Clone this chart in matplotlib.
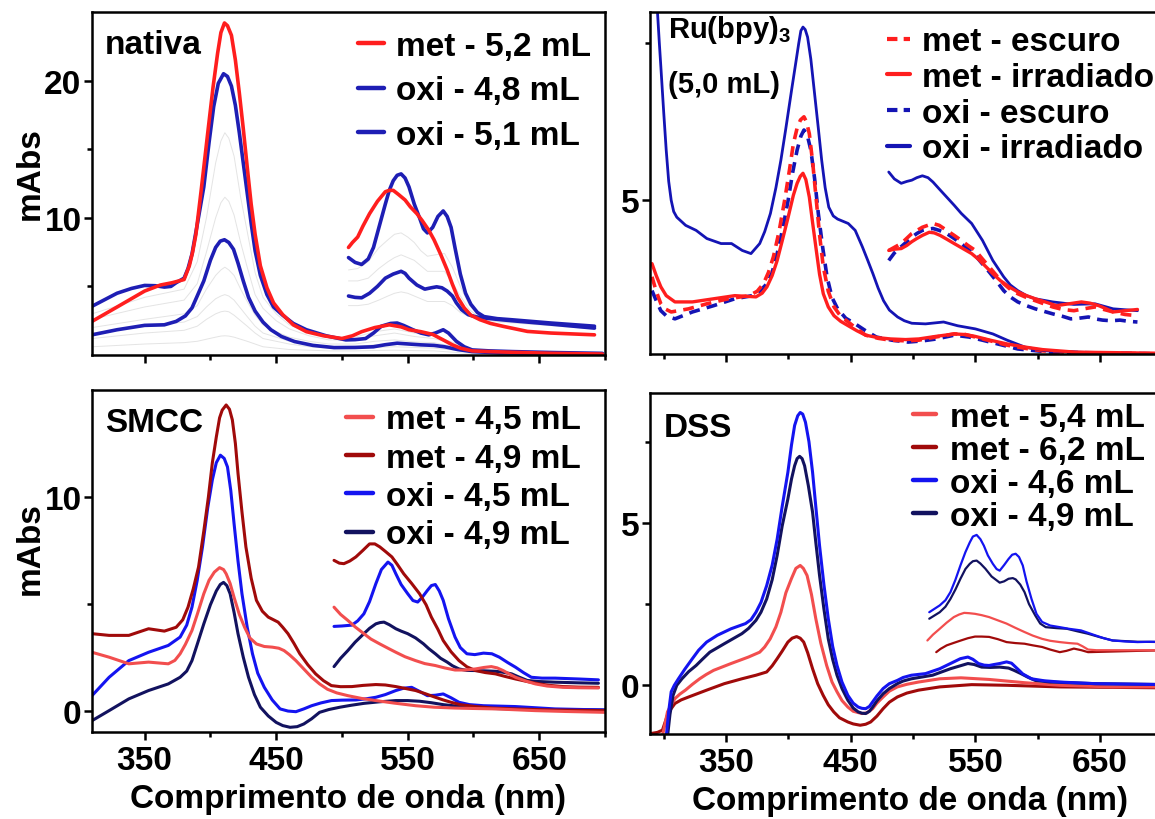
import matplotlib
matplotlib.use("Agg")
import matplotlib.pyplot as plt
from matplotlib.lines import Line2D
from matplotlib.ticker import FixedLocator

plt.rcParams['font.family'] = ['Liberation Sans', 'DejaVu Sans']
plt.rcParams['font.weight'] = 'bold'
plt.rcParams['mathtext.fontset'] = 'custom'
plt.rcParams['mathtext.rm'] = 'Liberation Sans:bold'
plt.rcParams['mathtext.default'] = 'rm'
plt.rcParams['lines.solid_joinstyle'] = 'round'
plt.rcParams['lines.solid_capstyle'] = 'round'
plt.rcParams['lines.dash_joinstyle'] = 'round'

# ---------------- nativa (top-left) ----------------
nat_met_wl = [310, 330, 350, 362, 371, 380, 384, 386.5, 389, 393, 398, 402, 405.5, 408, 410.7, 413, 416, 419, 422, 425, 428, 431, 434, 438, 443, 448, 455, 463, 473, 486, 500, 508, 515, 525, 536, 545, 551, 560, 569, 577, 584, 590, 599, 612, 629, 660, 698]
nat_met_v = [2.45, 3.55, 4.66, 5.1, 5.27, 5.5, 6.5, 7.5, 8.8, 12.0, 16.2, 19.5, 22.0, 23.5, 24.2, 24.0, 23.3, 21.5, 19.1, 16.5, 13.7, 11.0, 8.8, 6.5, 4.9, 3.8, 2.94, 2.2, 1.7, 1.4, 1.2, 1.4, 1.7, 2.0, 2.2, 2.05, 1.84, 1.7, 1.5, 1.1, 0.74, 0.5, 0.3, 0.25, 0.2, 0.12, 0.07]
nat_met_up_wl = [505, 508, 512, 516, 521, 527, 533, 536, 539, 543, 548, 552, 557, 561, 566, 570, 575, 580, 584, 588, 593, 598, 605, 613, 623, 641, 659, 692]
nat_met_up_v = [7.84, 8.2, 8.6, 9.4, 10.3, 11.2, 11.9, 12.0, 12.0, 11.7, 11.3, 10.8, 10.3, 9.8, 9.1, 8.4, 7.35, 6.2, 5.15, 4.2, 3.43, 2.9, 2.57, 2.3, 2.08, 1.72, 1.6, 1.47]

nat_oxi48_wl = [310, 320, 329, 340, 350, 358, 365, 370, 374, 380, 383, 386, 390, 395, 399, 402.5, 406, 410, 413, 416, 419, 422, 425, 428, 431, 434, 438, 443, 448, 455, 463, 473, 488, 503, 510, 518, 524, 530, 537, 542, 547, 554, 560, 566, 571, 577, 581, 587, 593, 599, 612, 629, 660, 698]
nat_oxi48_v = [3.55, 4.05, 4.5, 4.85, 5.07, 5.05, 4.95, 5.0, 5.27, 5.6, 6.3, 7.35, 9.5, 12.25, 15.5, 18.1, 19.8, 20.5, 20.3, 19.6, 18.2, 16.2, 14.0, 11.8, 9.6, 7.6, 5.8, 4.4, 3.5, 2.9, 2.3, 1.84, 1.4, 1.1, 1.12, 1.2, 1.6, 2.1, 2.3, 2.33, 2.15, 1.84, 1.6, 1.47, 1.6, 1.84, 1.6, 1.0, 0.6, 0.37, 0.3, 0.25, 0.18, 0.12]
nat_oxi48_up_wl = [505, 510, 515, 520, 524, 529, 533, 536, 539, 542, 545, 548, 551, 555, 559, 562, 565, 569, 573, 577, 580, 583, 586, 590, 594, 598, 603, 608, 618, 629, 659, 692]
nat_oxi48_up_v = [7.1, 6.75, 6.6, 7.0, 7.84, 9.6, 11.0, 12.0, 12.7, 13.1, 13.2, 12.9, 12.25, 11.0, 10.0, 9.2, 8.9, 9.3, 10.1, 10.5, 10.1, 9.3, 7.8, 5.9, 4.5, 3.7, 3.1, 2.8, 2.65, 2.57, 2.33, 2.1]

nat_oxi51_wl = [310, 329, 350, 365, 374, 381, 386, 390, 395, 400, 404, 407.5, 410.7, 414, 417.6, 421, 425, 429, 434, 440, 446, 454, 464, 478, 494, 510, 524, 533, 542, 551, 560, 570, 578, 588, 599, 620, 698]
nat_oxi51_v = [1.47, 1.84, 2.16, 2.2, 2.45, 2.85, 3.43, 4.3, 5.4, 6.9, 7.84, 8.3, 8.4, 8.2, 7.7, 6.7, 5.4, 4.2, 3.2, 2.4, 1.84, 1.35, 0.98, 0.7, 0.54, 0.55, 0.6, 0.75, 0.86, 0.8, 0.74, 0.7, 0.6, 0.4, 0.25, 0.15, 0.07]
nat_oxi51_up_wl = [505, 510, 515, 521, 527, 533, 539, 545, 548, 551, 557, 563, 568, 572, 576, 580, 584, 587, 591, 596, 602, 608, 618, 629, 659, 692]
nat_oxi51_up_v = [4.3, 4.2, 4.17, 4.5, 5.0, 5.6, 5.9, 6.1, 5.95, 5.6, 5.1, 4.8, 4.9, 4.97, 4.9, 4.66, 4.3, 3.8, 3.3, 2.94, 2.78, 2.7, 2.6, 2.5, 2.25, 1.96]

# faint intermediate spectra (grey)
nat_grey_wl = [310, 350, 380, 390, 397, 404, 408, 411, 414, 418, 423, 428, 434, 440, 450, 460, 475, 490, 510, 525, 540, 555, 570, 585, 600, 650, 698]
nat_grey_v = [
    [3.0, 4.2, 4.8, 6.8, 10.0, 14.0, 15.6, 16.2, 15.8, 14.5, 11.5, 9.0, 6.0, 4.2, 3.0, 2.2, 1.6, 1.3, 1.3, 1.7, 1.9, 1.6, 1.4, 0.9, 0.4, 0.2, 0.1],
    [2.6, 3.5, 4.0, 5.2, 7.5, 10.0, 11.1, 11.5, 11.2, 10.2, 8.2, 6.4, 4.4, 3.4, 2.5, 1.9, 1.4, 1.1, 1.1, 1.4, 1.6, 1.35, 1.2, 0.8, 0.35, 0.18, 0.1],
    [2.0, 2.6, 3.0, 3.6, 4.8, 5.8, 6.2, 6.4, 6.2, 5.8, 4.8, 3.9, 2.9, 2.2, 1.7, 1.3, 1.0, 0.8, 0.8, 1.0, 1.1, 0.95, 0.9, 0.6, 0.3, 0.15, 0.08],
    [1.6, 2.1, 2.4, 2.8, 3.5, 4.1, 4.3, 4.4, 4.3, 4.0, 3.4, 2.8, 2.1, 1.6, 1.3, 1.0, 0.8, 0.6, 0.6, 0.75, 0.8, 0.72, 0.7, 0.45, 0.2, 0.1, 0.06],
    [1.2, 1.6, 1.8, 2.1, 2.6, 3.0, 3.15, 3.2, 3.15, 2.9, 2.5, 2.1, 1.6, 1.2, 1.0, 0.8, 0.6, 0.5, 0.5, 0.55, 0.6, 0.55, 0.5, 0.35, 0.15, 0.08, 0.05],
    [0.6, 0.8, 0.9, 1.0, 1.15, 1.3, 1.38, 1.4, 1.38, 1.3, 1.15, 1.0, 0.8, 0.6, 0.5, 0.4, 0.35, 0.3, 0.3, 0.33, 0.35, 0.32, 0.3, 0.2, 0.1, 0.05, 0.03],
]
nat_grey_up_wl = [505, 512, 520, 528, 535, 540, 545, 550, 555, 560, 565, 571, 578, 584, 590, 597, 605, 620, 650, 692]
nat_grey_up_v = [
    [6.2, 6.3, 6.8, 7.8, 8.4, 8.8, 8.9, 8.6, 8.2, 7.6, 7.2, 7.3, 7.4, 6.4, 5.0, 3.6, 2.8, 2.5, 2.3, 2.1],
    [5.4, 5.4, 5.6, 6.3, 6.8, 7.1, 7.3, 7.1, 6.9, 6.5, 6.1, 6.1, 6.1, 5.3, 4.3, 3.3, 2.7, 2.45, 2.3, 2.0],
    [3.6, 3.6, 3.7, 4.0, 4.3, 4.5, 4.6, 4.5, 4.3, 4.1, 3.9, 3.9, 3.9, 3.6, 3.1, 2.8, 2.6, 2.4, 2.2, 1.9],
]

# ---------------- Ru(bpy)3 (top-right) ----------------
ru_oxi_irr_wl = [293, 295, 296.5, 297.7, 300, 302, 304, 306, 308, 310.5, 317.6, 326, 334.6, 346, 354.4, 363, 370, 377, 381, 385.6, 390, 394, 398, 402.6, 406, 408.3, 410, 411.7, 413.5, 415.4, 418, 421, 424, 426.7, 429.5, 432.4, 436, 439.5, 448, 453.6, 459.3, 463.5, 467.8, 472, 476.3, 481, 487.6, 493, 499, 510, 524.5, 535.8, 550, 564, 575.5, 589.7, 606.7, 632, 660.5, 706]
ru_oxi_irr_v = [8.5, 8.0, 7.5, 7.13, 6.4, 5.8, 5.3, 5.0, 4.82, 4.73, 4.6, 4.52, 4.39, 4.31, 4.31, 4.2, 4.15, 4.31, 4.5, 4.79, 5.2, 5.64, 6.15, 6.76, 7.2, 7.5, 7.7, 7.76, 7.72, 7.6, 7.25, 6.7, 6.15, 5.64, 5.2, 4.89, 4.75, 4.7, 4.63, 4.52, 4.26, 4.05, 3.83, 3.6, 3.4, 3.25, 3.14, 3.08, 3.04, 3.03, 3.06, 3.0, 2.95, 2.87, 2.77, 2.66, 2.6, 2.58, 2.56, 2.55]
ru_oxi_irr_up_wl = [480.5, 485, 490.5, 495, 499, 503, 507.5, 512, 516, 521, 527, 533, 538.7, 547, 555.7, 564, 572.7, 578, 584, 591, 598, 612, 629, 646, 660.5, 680]
ru_oxi_irr_up_v = [5.45, 5.34, 5.27, 5.3, 5.32, 5.36, 5.39, 5.36, 5.29, 5.18, 5.05, 4.92, 4.79, 4.63, 4.36, 4.04, 3.78, 3.65, 3.56, 3.48, 3.43, 3.38, 3.34, 3.35, 3.27, 3.24]

ru_met_esc_wl = [290.6, 294, 297.7, 301, 306, 320, 334.6, 351.6, 368.6, 375, 380, 384, 388, 392.5, 397, 401, 404, 407, 409.7, 412.5, 414.5, 416.8, 419.5, 422.4, 425, 428, 432, 436.6, 442, 448, 455, 462, 472, 482, 494, 504.6, 518, 533, 542, 550, 562, 575.5, 590, 604, 630, 706]
ru_met_esc_v = [3.78, 3.55, 3.35, 3.27, 3.22, 3.27, 3.35, 3.43, 3.48, 3.55, 3.67, 3.85, 4.1, 4.5, 5.0, 5.5, 5.9, 6.15, 6.28, 6.33, 6.25, 6.06, 5.6, 5.0, 4.45, 3.94, 3.55, 3.3, 3.15, 3.06, 2.95, 2.85, 2.8, 2.77, 2.76, 2.77, 2.82, 2.87, 2.86, 2.82, 2.76, 2.69, 2.64, 2.6, 2.57, 2.55]
ru_met_esc_up_wl = [480.5, 490.5, 499, 507.5, 516, 521, 527, 533, 538.7, 544, 550, 555, 561, 567, 572.7, 578, 584, 591, 598, 605, 612, 620, 629, 637, 646, 653, 660.5, 670, 680]
ru_met_esc_up_v = [4.2, 4.31, 4.47, 4.57, 4.63, 4.6, 4.52, 4.44, 4.36, 4.28, 4.2, 4.08, 3.94, 3.8, 3.67, 3.58, 3.51, 3.45, 3.4, 3.35, 3.3, 3.26, 3.24, 3.27, 3.3, 3.26, 3.22, 3.18, 3.16]

ru_met_irr_wl = [290.6, 294, 297.7, 302, 309, 323, 340, 357, 374, 379, 382.8, 387, 391, 395, 399.8, 404, 407, 409.5, 411.7, 414, 416.8, 419.5, 422.4, 425, 428, 432, 436.6, 442, 448, 455, 462, 472, 482, 494, 504.6, 518, 533, 542, 550, 562, 575.5, 590, 604, 630, 706]
ru_met_irr_v = [3.99, 3.8, 3.62, 3.48, 3.38, 3.38, 3.43, 3.48, 3.46, 3.52, 3.62, 3.8, 4.04, 4.35, 4.73, 5.08, 5.27, 5.38, 5.43, 5.33, 5.05, 4.63, 4.2, 3.82, 3.51, 3.3, 3.16, 3.07, 3.0, 2.92, 2.85, 2.81, 2.79, 2.78, 2.79, 2.83, 2.87, 2.86, 2.83, 2.77, 2.71, 2.66, 2.62, 2.58, 2.56]
ru_met_irr_up_wl = [480.5, 485, 490.5, 495, 499, 503, 507.5, 513, 517, 521.7, 527, 533, 540, 547, 553, 558.5, 564, 570, 577, 584, 591, 598, 606, 615, 625, 635, 642, 649, 655, 660.5, 670, 680]
ru_met_irr_up_v = [4.2, 4.22, 4.23, 4.28, 4.34, 4.39, 4.44, 4.49, 4.48, 4.44, 4.38, 4.31, 4.23, 4.15, 4.05, 3.94, 3.83, 3.72, 3.62, 3.54, 3.48, 3.43, 3.38, 3.32, 3.35, 3.38, 3.36, 3.32, 3.27, 3.22, 3.24, 3.26]

ru_oxi_esc_wl = [290.6, 294, 297.7, 302, 309, 323, 340, 357, 371, 377, 382.8, 387, 391, 395.5, 399.8, 403.5, 407, 410, 412.5, 415, 418, 421, 424, 427.5, 431, 435, 439.5, 446, 453.6, 462, 470.6, 483, 496, 508, 518.8, 533, 545, 555.7, 570, 584, 610, 706]
ru_oxi_esc_v = [3.56, 3.4, 3.24, 3.16, 3.11, 3.22, 3.32, 3.43, 3.48, 3.55, 3.67, 3.85, 4.15, 4.55, 5.0, 5.45, 5.8, 6.02, 6.12, 6.05, 5.8, 5.35, 4.79, 4.25, 3.78, 3.45, 3.27, 3.12, 3.03, 2.92, 2.82, 2.77, 2.74, 2.76, 2.79, 2.85, 2.82, 2.77, 2.7, 2.63, 2.58, 2.55]
ru_oxi_esc_up_wl = [480.5, 485, 490.5, 495, 499, 503, 507.5, 512, 516, 521, 527, 533, 538.7, 544, 550, 555, 561, 567, 572.7, 578, 584, 591, 598, 605, 612, 620, 626.5, 633, 640.7, 646, 652, 659, 666, 673, 680]
ru_oxi_esc_up_v = [4.04, 4.16, 4.26, 4.34, 4.41, 4.47, 4.52, 4.54, 4.55, 4.52, 4.47, 4.39, 4.31, 4.22, 4.12, 4.0, 3.86, 3.71, 3.56, 3.46, 3.38, 3.32, 3.27, 3.23, 3.19, 3.15, 3.11, 3.12, 3.14, 3.11, 3.09, 3.08, 3.09, 3.07, 3.06]

# ---------------- SMCC (bottom-left) ----------------
sm_met45_wl = [310, 323, 338, 353, 368, 373, 377, 381, 386, 390, 395, 399, 403, 407, 410, 412, 415, 418, 422, 426, 430, 435, 441, 447, 452, 456, 460, 465, 471, 477, 483, 489, 496, 504.5, 515, 525.8, 540, 556, 570, 586, 600, 617, 632, 647, 670, 700]
sm_met45_v = [2.73, 2.5, 2.19, 2.27, 2.19, 2.35, 2.66, 3.1, 3.75, 4.5, 5.47, 6.1, 6.48, 6.69, 6.6, 6.4, 5.95, 5.3, 4.5, 3.9, 3.4, 3.12, 3.0, 2.97, 2.92, 2.81, 2.62, 2.34, 1.95, 1.56, 1.25, 1.0, 0.83, 0.7, 0.57, 0.47, 0.35, 0.23, 0.16, 0.12, 0.1, 0.08, 0.04, 0.0, -0.04, -0.08]
sm_met45_up_wl = [494, 499, 504.5, 510, 516.7, 522, 528.8, 535, 541, 548, 556, 563, 571, 578, 586, 594, 601.5, 608, 613.6, 618, 622.7, 627, 632, 640, 647, 656, 668, 680, 695]
sm_met45_up_v = [4.84, 4.5, 4.22, 3.92, 3.6, 3.35, 3.12, 2.92, 2.73, 2.52, 2.34, 2.2, 2.11, 2.0, 1.9, 1.9, 1.95, 2.02, 2.06, 2.0, 1.87, 1.72, 1.56, 1.38, 1.25, 1.15, 1.09, 1.07, 1.06]

sm_met49_wl = [310, 323, 338, 353, 365, 374, 379, 383, 387, 391, 395, 398.5, 401.5, 404.5, 407, 409, 412, 414.5, 416.7, 419, 421, 424, 427, 431, 435, 439.5, 444, 448, 451.5, 455, 459, 463.5, 468, 474, 480, 486, 492, 499, 507.6, 516, 525.8, 533, 541, 548, 556, 563, 571, 577, 583, 590, 601.5, 615, 632, 660, 700]
sm_met49_v = [3.6, 3.52, 3.52, 3.83, 3.72, 3.9, 4.25, 4.84, 5.7, 6.72, 8.4, 10.0, 11.6, 12.8, 13.7, 14.06, 14.3, 14.1, 13.6, 12.5, 11.1, 9.3, 7.66, 6.2, 5.16, 4.65, 4.375, 4.25, 4.14, 3.9, 3.6, 3.15, 2.66, 2.15, 1.72, 1.4, 1.17, 1.12, 1.125, 1.18, 1.22, 1.2, 1.125, 1.04, 0.94, 0.8, 0.625, 0.5, 0.39, 0.28, 0.19, 0.12, 0.08, 0.03, 0.0]
sm_met49_up_wl = [494, 498, 501.5, 506, 510.6, 516, 521, 525, 528.8, 533, 538, 542, 547, 553, 559, 564, 568, 573, 577, 583, 589, 595, 601.5, 609, 616.7, 624, 632, 641, 650, 658, 668, 680, 695]
sm_met49_up_v = [7.03, 6.9, 6.875, 7.0, 7.19, 7.5, 7.8, 7.8, 7.66, 7.45, 7.19, 6.85, 6.4, 5.95, 5.47, 4.95, 4.375, 3.8, 3.28, 2.75, 2.34, 2.05, 1.875, 1.78, 1.72, 1.6, 1.48, 1.36, 1.25, 1.18, 1.125, 1.1, 1.09]

sm_oxi45_wl = [310, 323, 338, 353, 368, 377, 382, 386, 390, 394, 398, 401.5, 404.5, 407.6, 410.5, 413, 415.5, 418, 421, 424, 428, 432, 436, 441, 447, 453, 459, 465, 471, 477, 484, 492, 500, 510.6, 518, 525.8, 533, 541, 547, 553, 559, 565, 571, 577, 583, 589, 597, 607.6, 620, 632, 662, 700]
sm_oxi45_v = [0.7, 1.56, 2.34, 2.73, 3.05, 3.44, 4.0, 4.84, 6.1, 7.66, 9.5, 10.8, 11.6, 11.95, 11.8, 11.4, 10.3, 8.75, 7.0, 5.47, 3.9, 2.66, 1.75, 1.09, 0.5, 0.08, -0.02, -0.05, 0.08, 0.23, 0.36, 0.47, 0.49, 0.5, 0.55, 0.625, 0.75, 0.94, 1.05, 1.09, 0.9, 0.7, 0.72, 0.78, 0.6, 0.39, 0.28, 0.23, 0.21, 0.19, 0.08, 0.03]
sm_oxi45_up_wl = [494, 500, 507.6, 512, 516.7, 521, 525.8, 530, 535, 538, 541, 545, 550, 554, 557.6, 561, 565, 568, 571, 574, 577, 581, 586, 590, 595, 601, 607.6, 614, 619.7, 626, 632, 638, 644, 652, 662, 680, 695]
sm_oxi45_up_v = [3.94, 3.96, 4.0, 4.2, 4.53, 5.1, 5.94, 6.6, 6.95, 6.8, 6.4, 5.9, 5.47, 5.15, 5.08, 5.3, 5.625, 5.85, 5.9, 5.6, 5.16, 4.3, 3.44, 2.95, 2.66, 2.62, 2.69, 2.66, 2.5, 2.25, 2.03, 1.78, 1.56, 1.52, 1.52, 1.48, 1.44]

sm_oxi49_wl = [310, 323, 338, 353, 368, 377, 382, 386, 390, 395, 400, 404.5, 407.5, 410, 412.5, 415, 418, 421, 425, 429, 433.5, 438, 444, 450, 455, 460.6, 466, 471, 477, 483, 490, 498.5, 507, 516.7, 528, 541, 550, 559, 568, 577, 589, 601.5, 615, 632, 660, 700]
sm_oxi49_v = [-0.47, 0.0, 0.55, 0.94, 1.25, 1.56, 1.85, 2.34, 3.1, 4.06, 4.95, 5.6, 5.9, 6.0, 5.85, 5.47, 4.6, 3.6, 2.5, 1.56, 0.75, 0.16, -0.25, -0.55, -0.7, -0.78, -0.75, -0.625, -0.38, -0.08, 0.05, 0.16, 0.25, 0.34, 0.41, 0.47, 0.47, 0.44, 0.37, 0.28, 0.2, 0.125, 0.1, 0.08, 0.05, 0.03]
sm_oxi49_up_wl = [494, 499, 504.5, 510, 516.7, 521, 525.8, 529, 532, 536, 541, 545, 550, 556, 562, 566, 571, 575, 580, 584, 589, 595, 601.5, 609, 616.7, 622, 629, 635, 641, 650, 662, 680, 695]
sm_oxi49_up_v = [2.06, 2.45, 2.81, 3.2, 3.6, 3.85, 4.06, 4.12, 4.14, 4.02, 3.83, 3.72, 3.6, 3.4, 3.125, 2.9, 2.66, 2.45, 2.27, 2.1, 1.95, 1.88, 1.875, 1.86, 1.84, 1.8, 1.72, 1.56, 1.41, 1.36, 1.33, 1.3, 1.28]

# ---------------- DSS (bottom-right) ----------------
ds_oxi46_wl = [302, 304, 306, 308.5, 311.8, 317, 323, 328, 334.4, 343, 354, 365.6, 370, 374, 378, 382.6, 387, 391, 395, 399.6, 402.5, 405, 407.5, 409.5, 411.5, 413.7, 416.5, 419.4, 422, 425, 428.5, 432, 435.5, 439, 443, 447.7, 452, 456, 459, 462, 465, 467.6, 471, 476, 481, 487.4, 492, 498.7, 510, 521.4, 530, 538, 544, 548, 552.5, 557, 561, 565, 569.5, 575, 579, 583.7, 588, 595, 605, 617.7, 646, 706]
ds_oxi46_v = [-1.6, -0.8, -0.2, 0.0, 0.2, 0.5, 0.82, 1.08, 1.33, 1.54, 1.74, 1.9, 2.02, 2.25, 2.55, 3.07, 3.7, 4.5, 5.5, 6.56, 7.4, 8.0, 8.3, 8.4, 8.35, 8.1, 7.5, 6.56, 5.5, 4.3, 3.1, 2.05, 1.2, 0.61, 0.1, -0.31, -0.55, -0.67, -0.71, -0.72, -0.65, -0.51, -0.33, -0.1, 0.05, 0.15, 0.24, 0.31, 0.36, 0.51, 0.67, 0.82, 0.87, 0.8, 0.67, 0.62, 0.61, 0.64, 0.67, 0.72, 0.68, 0.51, 0.35, 0.2, 0.14, 0.1, 0.05, 0.02]
ds_oxi46_up_wl = [513, 521.4, 526, 530, 534, 538, 542, 545.5, 548, 551, 554, 556.8, 560, 564, 567, 569.5, 573, 576.6, 579.5, 582.3, 585, 588, 591, 595, 599, 603.5, 610, 617.7, 625, 634.7, 640, 646, 653, 660, 670, 680, 690, 706]
ds_oxi46_up_v = [2.25, 2.46, 2.62, 2.87, 3.25, 3.69, 4.1, 4.4, 4.58, 4.63, 4.5, 4.3, 4.0, 3.74, 3.58, 3.53, 3.7, 3.89, 4.02, 4.05, 3.95, 3.69, 3.2, 2.66, 2.2, 1.95, 1.84, 1.79, 1.74, 1.69, 1.62, 1.54, 1.45, 1.38, 1.35, 1.33, 1.34, 1.33]

ds_oxi49_wl = [303, 305, 307.5, 310.5, 314.6, 320, 326, 331, 337, 348.6, 362.7, 368, 374, 378, 382.6, 387, 391, 395, 399.6, 402.5, 405, 407, 409, 411, 413, 416, 419.4, 422, 425, 428.5, 432, 435.5, 439, 443, 447.7, 452, 456, 459, 462, 465, 467.6, 471, 476, 481, 487.4, 492, 498.7, 515.7, 530, 544, 549, 555, 562, 569.5, 576.6, 581, 586.5, 592, 598, 610, 646, 706]
ds_oxi49_v = [-1.6, -0.9, -0.31, 0.0, 0.2, 0.42, 0.61, 0.8, 1.02, 1.28, 1.59, 1.75, 2.0, 2.25, 2.66, 3.25, 4.0, 4.9, 5.74, 6.35, 6.76, 6.98, 7.05, 6.98, 6.76, 6.15, 5.33, 4.4, 3.38, 2.35, 1.43, 0.8, 0.31, -0.1, -0.46, -0.7, -0.82, -0.86, -0.87, -0.8, -0.67, -0.48, -0.26, -0.1, 0.05, 0.13, 0.2, 0.31, 0.51, 0.67, 0.64, 0.56, 0.55, 0.56, 0.53, 0.46, 0.36, 0.25, 0.15, 0.1, 0.05, 0.02]
ds_oxi49_up_wl = [513, 521.4, 526, 530, 534, 538, 542, 545.5, 548, 551, 554, 558, 563, 569.5, 573, 576.6, 580, 582.3, 586, 589.4, 593, 598, 602, 606.4, 615, 623.4, 632, 640, 650, 660, 680, 706]
ds_oxi49_up_v = [2.05, 2.25, 2.42, 2.66, 2.95, 3.28, 3.58, 3.74, 3.82, 3.84, 3.75, 3.59, 3.35, 3.16, 3.2, 3.28, 3.3, 3.26, 3.1, 2.87, 2.5, 2.15, 1.9, 1.79, 1.76, 1.74, 1.66, 1.59, 1.48, 1.38, 1.34, 1.33]

ds_met54_wl = [299, 301, 303, 306, 309, 313, 317.4, 323, 328.8, 334, 340, 354, 368, 377, 381, 385.4, 390, 394, 398, 402.4, 406, 409.5, 412, 415, 418.5, 422, 426, 430.7, 435, 439, 443, 447.7, 452, 459, 463, 467.6, 471, 476, 481, 487.4, 495, 504.4, 521.4, 538.4, 561, 589.4, 617.7, 660, 706]
ds_met54_v = [-1.55, -1.2, -0.82, -0.6, -0.41, -0.27, -0.15, 0.03, 0.2, 0.33, 0.46, 0.67, 0.87, 1.02, 1.18, 1.43, 1.8, 2.25, 2.85, 3.28, 3.6, 3.69, 3.6, 3.38, 2.8, 2.05, 1.3, 0.61, 0.1, -0.2, -0.47, -0.67, -0.8, -0.87, -0.85, -0.72, -0.55, -0.36, -0.18, -0.05, 0.03, 0.1, 0.2, 0.23, 0.18, 0.08, 0.0, -0.05, -0.05]
ds_met54_up_wl = [511.5, 516, 521.4, 527, 532.7, 537, 541, 545, 549.7, 555, 561, 568, 575, 582, 589.4, 596, 603.5, 610, 617.7, 625, 631.9, 636, 640.4, 647, 654.5, 680, 706]
ds_met54_up_v = [1.38, 1.56, 1.74, 1.93, 2.1, 2.18, 2.23, 2.22, 2.2, 2.16, 2.1, 2.0, 1.9, 1.77, 1.64, 1.53, 1.43, 1.37, 1.33, 1.3, 1.28, 1.2, 1.1, 1.08, 1.08, 1.08, 1.08]

ds_met62_wl = [289, 295, 299, 301, 303, 306, 309, 314, 320, 334.4, 348.6, 362.7, 374, 382.6, 387, 391, 395, 399.6, 403, 406.6, 409.5, 412.3, 415.5, 419.4, 423.5, 427.9, 432, 436.4, 441, 447.7, 452, 457.6, 462, 466, 471, 476, 481, 487.4, 495, 504.4, 521.4, 547, 575, 617.7, 706]
ds_met62_v = [-1.49, -1.45, -1.38, -1.15, -0.92, -0.72, -0.56, -0.45, -0.36, -0.15, 0.05, 0.2, 0.31, 0.41, 0.6, 0.82, 1.05, 1.33, 1.45, 1.5, 1.45, 1.33, 1.0, 0.51, 0.05, -0.31, -0.6, -0.82, -1.0, -1.13, -1.19, -1.23, -1.2, -1.13, -0.95, -0.72, -0.52, -0.36, -0.24, -0.15, -0.05, 0.02, 0.0, -0.05, -0.08]
ds_met62_up_wl = [518.6, 522, 527, 533, 538.4, 544, 549.7, 555, 561, 568, 575, 582, 589.4, 596, 603.5, 610, 617.7, 623, 629, 635, 640.4, 650, 660, 680, 706]
ds_met62_up_v = [1.02, 1.12, 1.23, 1.31, 1.38, 1.45, 1.5, 1.5, 1.49, 1.42, 1.33, 1.3, 1.28, 1.23, 1.18, 1.1, 1.02, 1.06, 1.13, 1.08, 1.02, 1.03, 1.04, 1.06, 1.08]

# ---------------- labels ----------------
x_ticks_major = [350, 450, 550, 650]
x_label = "Comprimento de onda (nm)"
y_label = "mAbs"

RED = '#FF1E1E'
BLUE_TL = '#1E1EB4'
BLUE_TR = '#1414B4'
LRED = '#F24E4E'
DRED = '#A00A0A'
BBLUE = '#1414F0'
NAVY = '#12125F'

W, H = 1155, 820
fig = plt.figure(figsize=(W / 100, H / 100), dpi=100)


def add_ax(l, t, r, b):
    return fig.add_axes([l / W, 1 - b / H, (r - l) / W, (b - t) / H])


ax_tl = add_ax(92, 13, 605, 356)
ax_tr = add_ax(650, 13, 650 + 417 * 1.2467, 355)
ax_bl = add_ax(92, 391, 605, 733)
ax_br = add_ax(650, 394, 650 + 417 * 1.2467, 735)

FS = 24

for ax in (ax_tl, ax_tr, ax_bl, ax_br):
    for s in ax.spines.values():
        s.set_linewidth(1.8)
    ax.tick_params(which='major', length=5.5, width=1.8, labelsize=FS, pad=2)
    ax.tick_params(axis='x', which='major', pad=4)
    ax.tick_params(which='minor', length=3.5, width=1.8)
    ax.xaxis.set_major_locator(FixedLocator(x_ticks_major))
    ax.xaxis.set_minor_locator(FixedLocator([300, 400, 500, 600, 700]))
    for lab in ax.get_xticklabels() + ax.get_yticklabels():
        lab.set_fontweight('bold')

# ----- top-left -----
ax = ax_tl
for gv in nat_grey_v:
    ax.plot(nat_grey_wl, gv, color='#E4E4E4', lw=0.7, zorder=1)
for gv in nat_grey_up_v:
    ax.plot(nat_grey_up_wl, gv, color='#E4E4E4', lw=0.7, zorder=1)
lw = 2.6
ax.plot(nat_oxi51_wl, nat_oxi51_v, color=BLUE_TL, lw=lw)
ax.plot(nat_oxi51_up_wl, nat_oxi51_up_v, color=BLUE_TL, lw=lw)
ax.plot(nat_oxi48_wl, nat_oxi48_v, color=BLUE_TL, lw=lw)
ax.plot(nat_oxi48_up_wl, nat_oxi48_up_v, color=BLUE_TL, lw=lw)
ax.plot(nat_met_wl, nat_met_v, color=RED, lw=lw)
ax.plot(nat_met_up_wl, nat_met_up_v, color=RED, lw=lw)
ax.set_xlim(310, 700)
ax.set_ylim(0, 25)
ax.yaxis.set_major_locator(FixedLocator([10, 20]))
ax.yaxis.set_minor_locator(FixedLocator([5, 15]))
ax.set_xticklabels([])
ax.text(0.025, 0.905, 'nativa', transform=ax.transAxes, fontsize=FS, fontweight='bold', va='center', ha='left')
h = [Line2D([], [], color=RED, lw=3.2), Line2D([], [], color=BLUE_TL, lw=3.2), Line2D([], [], color=BLUE_TL, lw=3.2)]
ax.legend(h, ['met - 5,2 mL', 'oxi - 4,8 mL', 'oxi - 5,1 mL'], loc='upper left', bbox_to_anchor=(0.518, 0.945),
          frameon=False, borderpad=0, borderaxespad=0, handlelength=0.8, handletextpad=0.36, labelspacing=0.4,
          prop={'size': FS, 'weight': 'bold'})

# ----- top-right -----
ax = ax_tr
lw = 2.0
ax.plot(ru_oxi_esc_wl, ru_oxi_esc_v, color=BLUE_TR, lw=2.6, ls=(0, (3, 2)))
ax.plot(ru_oxi_esc_up_wl, ru_oxi_esc_up_v, color=BLUE_TR, lw=2.6, ls=(0, (3, 2)))
ax.plot(ru_met_esc_wl, ru_met_esc_v, color=RED, lw=2.6, ls=(0, (3, 2)))
ax.plot(ru_met_esc_up_wl, ru_met_esc_up_v, color=RED, lw=2.6, ls=(0, (3, 2)))
ax.plot(ru_oxi_irr_wl, ru_oxi_irr_v, color=BLUE_TR, lw=lw)
ax.plot(ru_oxi_irr_up_wl, ru_oxi_irr_up_v, color=BLUE_TR, lw=lw)
ax.plot(ru_met_irr_wl, ru_met_irr_v, color=RED, lw=2.4)
ax.plot(ru_met_irr_up_wl, ru_met_irr_up_v, color=RED, lw=2.4)
ax.set_xlim(289, 706)
ax.set_ylim(2.55, 8.0)
ax.yaxis.set_major_locator(FixedLocator([5]))
ax.yaxis.set_minor_locator(FixedLocator([7.5]))
ax.set_xticklabels([])
ax.spines['right'].set_visible(False)
ax.text(0.035, 0.95, r'Ru(bpy)$_3$', transform=ax.transAxes, fontsize=21, fontweight='bold', va='center', ha='left')
ax.text(0.035, 0.79, '(5,0 mL)', transform=ax.transAxes, fontsize=21, fontweight='bold', va='center', ha='left')
h = [Line2D([], [], color=RED, lw=3, ls=(0, (2.5, 1.5))), Line2D([], [], color=RED, lw=3),
     Line2D([], [], color=BLUE_TR, lw=3, ls=(0, (2.5, 1.5))), Line2D([], [], color=BLUE_TR, lw=3)]
ax.legend(h, ['met - escuro', 'met - irradiado', 'oxi - escuro', 'oxi - irradiado'], loc='upper left',
          bbox_to_anchor=(0.456, 0.958), frameon=False, borderpad=0, borderaxespad=0, handlelength=0.7,
          handletextpad=0.36, labelspacing=0.14, prop={'size': FS, 'weight': 'bold'})

# ----- bottom-left -----
ax = ax_bl
lw = 2.2
ax.plot(sm_oxi49_wl, sm_oxi49_v, color=NAVY, lw=lw)
ax.plot(sm_oxi49_up_wl, sm_oxi49_up_v, color=NAVY, lw=lw)
ax.plot(sm_oxi45_wl, sm_oxi45_v, color=BBLUE, lw=lw)
ax.plot(sm_oxi45_up_wl, sm_oxi45_up_v, color=BBLUE, lw=lw)
ax.plot(sm_met49_wl, sm_met49_v, color=DRED, lw=lw)
ax.plot(sm_met49_up_wl, sm_met49_up_v, color=DRED, lw=lw)
ax.plot(sm_met45_wl, sm_met45_v, color=LRED, lw=lw)
ax.plot(sm_met45_up_wl, sm_met45_up_v, color=LRED, lw=lw)
ax.set_xlim(310, 700)
ax.set_ylim(-1, 15)
ax.yaxis.set_major_locator(FixedLocator([0, 10]))
ax.yaxis.set_minor_locator(FixedLocator([5]))
ax.text(0.025, 0.905, 'SMCC', transform=ax.transAxes, fontsize=FS, fontweight='bold', va='center', ha='left')
h = [Line2D([], [], color=c, lw=3.2) for c in (LRED, DRED, BBLUE, NAVY)]
ax.legend(h, ['met - 4,5 mL', 'met - 4,9 mL', 'oxi - 4,5 mL', 'oxi - 4,9 mL'], loc='upper left',
          bbox_to_anchor=(0.495, 0.958), frameon=False, borderpad=0, borderaxespad=0, handlelength=0.8,
          handletextpad=0.4, labelspacing=0.22, prop={'size': FS, 'weight': 'bold'})
ax.set_xlabel(x_label, fontsize=FS, fontweight='bold', labelpad=5)

# ----- bottom-right -----
ax = ax_br
ax.plot(ds_met62_wl, ds_met62_v, color=DRED, lw=lw)
ax.plot(ds_met62_up_wl, ds_met62_up_v, color=DRED, lw=1.6)
ax.plot(ds_met54_wl, ds_met54_v, color=LRED, lw=lw)
ax.plot(ds_met54_up_wl, ds_met54_up_v, color=LRED, lw=1.6)
ax.plot(ds_oxi49_wl, ds_oxi49_v, color=NAVY, lw=lw)
ax.plot(ds_oxi49_up_wl, ds_oxi49_up_v, color=NAVY, lw=1.6)
ax.plot(ds_oxi46_wl, ds_oxi46_v, color=BBLUE, lw=lw)
ax.plot(ds_oxi46_up_wl, ds_oxi46_up_v, color=BBLUE, lw=1.6)
ax.set_xlim(289, 706)
ax.set_ylim(-1.5, 9)
ax.yaxis.set_major_locator(FixedLocator([0, 5]))
ax.yaxis.set_minor_locator(FixedLocator([2.5, 7.5]))
ax.spines['right'].set_visible(False)
ax.text(0.027, 0.9, 'DSS', transform=ax.transAxes, fontsize=FS, fontweight='bold', va='center', ha='left')
ax.legend(h, ['met - 5,4 mL', 'met - 6,2 mL', 'oxi - 4,6 mL', 'oxi - 4,9 mL'], loc='upper left',
          bbox_to_anchor=(0.506, 0.975), frameon=False, borderpad=0, borderaxespad=0, handlelength=0.7,
          handletextpad=0.4, labelspacing=0.06, prop={'size': FS, 'weight': 'bold'})
ax.set_xlabel(x_label, fontsize=FS, fontweight='bold', labelpad=5)

fig.text(30 / W, 1 - 174 / H, y_label, rotation=90, fontsize=FS, fontweight='bold', ha='center', va='center')
fig.text(30 / W, 1 - 549 / H, y_label, rotation=90, fontsize=FS, fontweight='bold', ha='center', va='center')

fig.savefig('out.png', dpi=100)
